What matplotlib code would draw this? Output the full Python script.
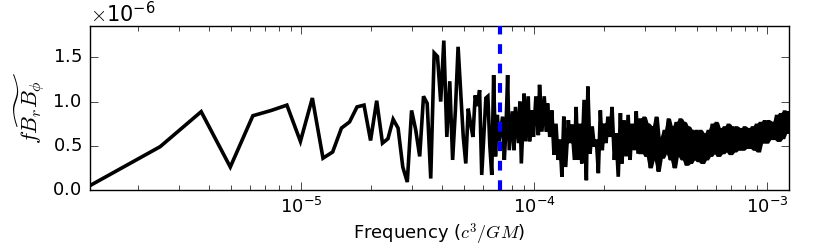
import numpy as np
import matplotlib
matplotlib.use("Agg")
import matplotlib.pyplot as plt

# ---------------- data (values in units of 1e-6) ----------------
df = 1.24e-6                      # frequency resolution (c^3/GM)
# individually resolved low-frequency bins 1..57
low_bins = list(range(1, 58))
low_vals = [0.05, 0.49, 0.886, 0.26, 0.84, 0.90, 0.96, 0.55, 1.04, 0.36,
            0.43, 0.70, 0.77, 0.94, 0.96, 0.56, 1.01, 0.53, 0.58, 0.80,
            0.70, 0.26, 0.09, 0.90, 0.68, 0.38, 1.06, 0.98, 0.13, 1.55,
            1.51, 1.00, 1.69, 0.60, 1.23, 0.34, 0.90, 1.62, 1.10, 0.60,
            0.30, 0.92, 0.75, 0.60, 1.07, 0.95, 1.13, 0.17, 0.60, 1.04,
            1.06, 0.50, 0.17, 1.30, 0.38, 0.85, 0.55]
# dense high-frequency part, sampled bins
high_bins = [59, 60, 61, 62, 63, 65, 66, 67, 69, 70, 71, 73, 74, 76, 77, 79,
             80, 82, 84, 85, 87, 89, 91, 92, 94, 96, 98, 100, 102, 104, 106,
             108, 110, 113, 115, 117, 120, 122, 124, 127, 129, 132, 135, 137,
             140, 143, 146, 149, 152, 155, 158, 161, 164, 167, 171, 174, 178,
             181, 185, 189, 192, 196, 200, 204, 208, 212, 217, 221, 225, 230,
             235, 239, 244, 249, 254, 259, 264, 270, 275, 280, 286, 292, 298,
             304, 310, 316, 322, 329, 335, 342, 349, 356, 363, 370, 378, 385,
             393, 401, 409, 417, 425, 434, 442, 451, 460, 469, 479, 488, 498,
             508, 518, 529, 539, 550, 561, 572, 584, 595, 607, 620, 632, 645,
             658, 671, 684, 698, 712, 726, 740, 755, 770, 786, 801, 817, 834,
             851, 868, 885, 903, 921, 939, 958, 977, 996, 1000]
high_vals = [0.83, 0.34, 0.70, 1.30, 0.45, 0.89, 0.45, 0.94, 0.53, 1.00,
             0.30, 1.09, 0.55, 1.06, 0.55, 0.90, 0.60, 1.06, 0.62, 1.19,
             0.66, 1.06, 0.66, 0.98, 0.60, 0.90, 0.40, 0.75, 0.34, 0.57,
             0.15, 0.83, 0.26, 0.79, 0.53, 0.74, 0.34, 0.94, 0.34, 0.75,
             0.30, 1.02, 0.11, 1.17, 0.41, 0.72, 0.49, 0.57, 0.19, 0.90,
             0.45, 0.75, 0.53, 0.83, 0.60, 0.94, 0.34, 0.64, 0.15, 0.87,
             0.30, 0.79, 0.38, 0.85, 0.34, 0.75, 0.45, 0.89, 0.41, 0.81,
             0.41, 0.83, 0.38, 0.75, 0.25, 0.72, 0.34, 0.83, 0.21, 0.60,
             0.36, 0.68, 0.41, 0.81, 0.34, 0.72, 0.25, 0.77, 0.38, 0.81,
             0.34, 0.77, 0.28, 0.72, 0.30, 0.68, 0.34, 0.68, 0.32, 0.68,
             0.30, 0.64, 0.34, 0.68, 0.38, 0.75, 0.41, 0.77, 0.38, 0.70,
             0.41, 0.72, 0.43, 0.75, 0.40, 0.72, 0.43, 0.72, 0.45, 0.70,
             0.45, 0.72, 0.47, 0.70, 0.47, 0.72, 0.45, 0.75, 0.43, 0.77,
             0.53, 0.79, 0.53, 0.79, 0.57, 0.77, 0.57, 0.85, 0.55, 0.87,
             0.58, 0.90, 0.64, 0.89, 0.68]
f_marker = 7.15e-5                # dashed vertical line
x_ticks = [1e-5, 1e-4, 1e-3]
y_ticks = [0.0, 0.5, 1.0, 1.5]
ylim_top = 1.855
solid_from_bin = 225              # where the curve becomes a solid band

# ---------------- plotting ----------------
plt.style.use("classic")
plt.rcParams["font.family"] = ["DejaVu Sans"]
plt.rcParams["mathtext.fontset"] = "cm"
plt.rcParams["axes.formatter.use_mathtext"] = True

bins = np.array(low_bins + high_bins, dtype=float)
vals = np.array(low_vals + high_vals) * 1e-6
freq = bins * df

fig = plt.figure(figsize=(8.3, 2.49), dpi=100, facecolor="white")
ax = fig.add_axes([90 / 830, 1 - 190 / 249, (789 - 90) / 830, (190 - 26) / 249])
ax.plot(freq, vals, color="black", lw=2.6, solid_joinstyle="miter", zorder=2)

# dense tail: shade between the local min/max of neighbouring samples
m = bins >= solid_from_bin
tf, tv = freq[m], vals[m]
upper = np.array([tv[max(i - 1, 0):i + 2].max() for i in range(len(tv))])
lower = np.array([tv[max(i - 1, 0):i + 2].min() for i in range(len(tv))])
ax.fill_between(tf, lower, upper, color="black", lw=0, zorder=2)

ax.axvline(f_marker, color="blue", lw=3.0, ls=(0, (7, 7)), zorder=3)
ax.set_xscale("log")
ax.set_xlim(freq[0], freq[-1])
ax.set_ylim(0, ylim_top * 1e-6)
ax.set_yticks(np.array(y_ticks) * 1e-6)
ax.ticklabel_format(axis="y", style="sci", scilimits=(0, 0))
ax.set_xticks(x_ticks)
ax.tick_params(which="major", length=6, labelsize=13)
ax.tick_params(which="minor", length=3.5)
ax.tick_params(axis="x", pad=5)
ax.tick_params(axis="y", pad=6)
ax.yaxis.get_offset_text().set_fontsize(15)
ax.set_xlabel(r"Frequency ($c^3/GM$)", fontsize=13, labelpad=3)
ax.set_ylabel(r"$f\widetilde{B_rB_\phi}$", fontsize=16, labelpad=4)
fig.savefig("out.png", dpi=100, facecolor="white")
